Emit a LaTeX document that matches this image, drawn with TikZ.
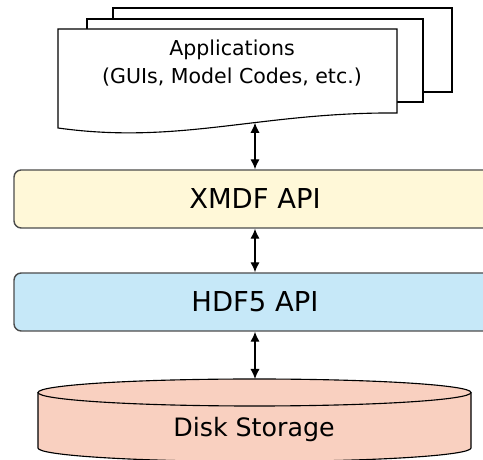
\documentclass[tikz,border=0pt]{standalone}
\usepackage{fontspec}
\setmainfont{DejaVu Sans}
\usetikzlibrary{arrows.meta}

\definecolor{apiyellow}{HTML}{FFF8D8}
\definecolor{apiblue}{HTML}{C6E8F8}
\definecolor{disksalmon}{HTML}{F9D0C0}

\tikzset{
    layer/.style={draw=black!70, line width=1pt, rounded corners=0.18cm,
        minimum width=12.05cm, minimum height=1.45cm,
        font=\fontsize{19.5}{22}\selectfont},
    link/.style={line width=0.9pt, {Latex[length=2.5mm,width=2.3mm]}-{Latex[length=2.5mm,width=2.3mm]}},
    page/.style={draw, line width=0.8pt, fill=white}
}

\begin{document}
\begin{tikzpicture}

    \useasboundingbox (0,0) rectangle (12.075,11.5);
    \clip (0,0) rectangle (12.075,11.5);

    % stack of application pages
    \draw[page] (2.825,9.2) rectangle (11.3,11.3);
    \draw[page] (2.175,8.95) rectangle (10.575,11.025);
    \draw[page] (1.45,8.3) -- (1.45,10.775) -- (9.925,10.775) -- (9.925,8.675)
        .. controls (6.5,8.7) and (4.5,7.875) .. (1.45,8.3) -- cycle;
    \node[align=center, font=\fontsize{14.6}{19.3}\selectfont] (apps) at (5.8,9.925)
        {Applications\\(GUIs, Model Codes, etc.)};
    \coordinate (appsbottom) at (6.375,8.43);

    \node[layer, fill=apiyellow] (xmdf) at (6.375,6.525) {XMDF API};
    \node[layer, fill=apiblue] (hdf) at (6.375,3.95) {HDF5 API};

    % disk
    \draw[fill=disksalmon, line width=0.8pt] (0.95,1.6875) -- (0.95,0.3)
        arc (180:360:5.4125 and 0.3375) -- (11.775,1.6875);
    \draw[fill=disksalmon, line width=0.8pt] (6.3625,1.6875) ellipse (5.4125 and 0.3375);
    \coordinate (disktop) at (6.375,2.025);
    \node[anchor=base, font=\fontsize{18}{21}\selectfont] (disk) at (6.35,0.575) {Disk Storage};

    \draw[link] (appsbottom) -- (xmdf.north);
    \draw[link] (xmdf.south) -- (hdf.north);
    \draw[link] (hdf.south) -- (disktop);

\end{tikzpicture}
\end{document}
